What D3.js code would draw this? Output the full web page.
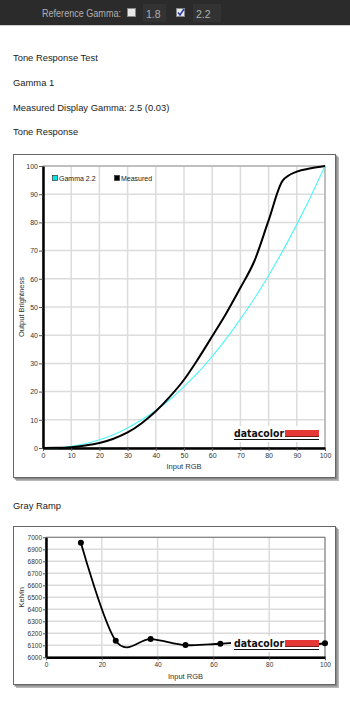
<!DOCTYPE html>
<html><head><meta charset="utf-8">
<script src="https://cdn.jsdelivr.net/npm/d3@7"></script>
<style>
html,body{margin:0;padding:0;background:#fff;}
svg{display:block;font-family:"Liberation Sans",Arial,sans-serif;}
</style></head>
<body><svg id="c" width="350" height="703"></svg>
<script>
// ---- data ----
const toneInput = [0,5,10,15,20,25,30,35,40,45,50,55,60,65,70,75,80,85,90,95,100];
const gamma22 = [0,0.1,0.6,1.5,2.9,4.7,7.1,10,13.3,17.2,21.8,26.8,32.5,38.8,45.7,53.1,61.2,69.9,79.3,89.3,100];
const measured = [0,0.05,0.3,0.9,1.8,3.3,5.5,8.8,13,18.2,24.2,31.6,39.6,47.8,56.8,66.4,80.7,94.8,98,99.2,100];
const toneTicks = [0,10,20,30,40,50,60,70,80,90,100];
const rampInput = [12.5,25,37.5,50,62.5,75,87.5,100];
const rampKelvin = [6955,6138,6152,6102,6113,6128,6095,6117];
const kelvinTicks = [6000,6100,6200,6300,6400,6500,6600,6700,6800,6900,7000];
const rampXTicks = [0,20,40,60,80,100];
const headings = [["Tone Response Test",60.5],["Gamma 1",86],["Measured Display Gamma: 2.5 (0.03)",110.5],["Tone Response",134.5],["Gray Ramp",508.5]];

const svg = d3.select("#c");

// top bar
svg.append("rect").attr("x",0).attr("y",0).attr("width",350).attr("height",25).attr("fill","#2b2b2b");
svg.append("rect").attr("x",0).attr("y",25).attr("width",350).attr("height",1).attr("fill","#cfcfcf");
svg.append("text").attr("x",42).attr("y",17).attr("font-size",10).attr("fill","#b0b0b0")
  .attr("textLength",79).attr("lengthAdjust","spacingAndGlyphs").text("Reference Gamma:");
svg.append("rect").attr("x",143).attr("y",4).attr("width",23).attr("height",18).attr("fill","#333");
svg.append("rect").attr("x",193).attr("y",4).attr("width",28).attr("height",18).attr("fill","#333");
svg.append("rect").attr("x",127.5).attr("y",8.5).attr("width",8).attr("height",8).attr("fill","#e8e8e8").attr("stroke","#888");
svg.append("text").attr("x",146).attr("y",18).attr("font-size",10.5).attr("fill","#b0b0b0").text("1.8");
svg.append("rect").attr("x",176.5).attr("y",8.5).attr("width",8).attr("height",8).attr("fill","#e8e8e8").attr("stroke","#888");
svg.append("path").attr("d","M178,12.5 L180,15 L184,9").attr("fill","none").attr("stroke","#2b3fae").attr("stroke-width",1.6);
svg.append("text").attr("x",196).attr("y",18).attr("font-size",10.5).attr("fill","#b0b0b0").text("2.2");

headings.forEach(([t,y])=>svg.append("text").attr("x",13).attr("y",y).attr("font-size",9.4).attr("fill","#222").text(t));

function frame(x0,y0,x1,y1){
  svg.append("rect").attr("x",x0+3).attr("y",y0+3).attr("width",x1-x0).attr("height",y1-y0).attr("fill","#b8b8b8");
  svg.append("rect").attr("x",x0+1.5).attr("y",y0+1.5).attr("width",x1-x0).attr("height",y1-y0).attr("fill","#8a8a8a");
  svg.append("rect").attr("x",x0+0.5).attr("y",y0+0.5).attr("width",x1-x0-1).attr("height",y1-y0-1).attr("fill","#fff").attr("stroke","#666");
}

function logo(g, xr, yb){
  const lg = g.append("g");
  lg.append("rect").attr("x",xr-88).attr("y",yb-11).attr("width",88).attr("height",16).attr("fill","#fff");
  lg.append("text").attr("x",xr-85).attr("y",yb).attr("font-size",11).attr("font-weight","bold")
    .attr("font-family","'DejaVu Sans',sans-serif").attr("fill","#111")
    .attr("textLength",50).attr("lengthAdjust","spacingAndGlyphs").text("datacolor");
  lg.append("rect").attr("x",xr-85).attr("y",yb+2).attr("width",85).attr("height",1).attr("fill","#111");
  lg.append("rect").attr("x",xr-34).attr("y",yb-7).attr("width",34).attr("height",6).attr("fill","#e53935");
  lg.append("rect").attr("x",xr-34).attr("y",yb-1).attr("width",34).attr("height",1).attr("fill","#7a1f1f");
}

// ---------- Chart 1: Tone Response ----------
frame(13,154,336,478);
{
  const L=43,R=325,T=166,B=448;
  const x=d3.scaleLinear().domain([0,100]).range([L,R]);
  const y=d3.scaleLinear().domain([0,100]).range([B,T]);
  const g=svg.append("g");
  toneTicks.forEach(t=>{
    g.append("line").attr("x1",x(t)).attr("x2",x(t)).attr("y1",T).attr("y2",B).attr("stroke","#dcdcdc").attr("stroke-width",1.5);
    g.append("line").attr("x1",L).attr("x2",R).attr("y1",y(t)).attr("y2",y(t)).attr("stroke","#dcdcdc").attr("stroke-width",1.5);
  });
  g.append("rect").attr("x",L).attr("y",T).attr("width",R-L).attr("height",B-T).attr("fill","none").attr("stroke","#999").attr("stroke-width",1);
  const yAx=g.append("g").attr("transform",`translate(${L},0)`).call(d3.axisLeft(y).tickValues(toneTicks).tickSize(4).tickSizeOuter(0).tickPadding(1));
  const xAx=g.append("g").attr("transform",`translate(0,${B})`).call(d3.axisBottom(x).tickValues(toneTicks).tickSize(3).tickSizeOuter(0).tickPadding(2));
  [yAx,xAx].forEach(a=>{a.select(".domain").attr("stroke","#000").attr("stroke-width",2.5);
    a.selectAll("text").attr("font-size",7).attr("fill","#333").attr("font-family","'Liberation Sans',Arial,sans-serif");
    a.selectAll(".tick line").attr("stroke","#555");});
  g.append("text").attr("x",(L+R)/2).attr("y",469).attr("text-anchor","middle").attr("font-size",7.5).attr("fill","#333").text("Input RGB");
  g.append("text").attr("transform",`translate(23.5,${(T+B)/2}) rotate(-90)`).attr("text-anchor","middle").attr("font-size",7.5).attr("fill","#333").text("Output Brightness");
  const line=d3.line().x((d,i)=>x(toneInput[i])).y(d=>y(d)).curve(d3.curveMonotoneX);
  g.append("path").attr("d",line(gamma22)).attr("fill","none").attr("stroke","#4ff6f6").attr("stroke-width",1.1);
  g.append("path").attr("d",line(measured)).attr("fill","none").attr("stroke","#000").attr("stroke-width",2);
  // legend
  g.append("rect").attr("x",52.5).attr("y",175.5).attr("width",5).attr("height",5).attr("fill","#00e5e5").attr("stroke","#333").attr("stroke-width",0.7);
  g.append("text").attr("x",59).attr("y",181).attr("font-size",7).attr("fill","#222").text("Gamma 2.2");
  g.append("rect").attr("x",114.5).attr("y",175.5).attr("width",5).attr("height",5).attr("fill","#000").attr("stroke","#333").attr("stroke-width",0.7);
  g.append("text").attr("x",121).attr("y",181).attr("font-size",7).attr("fill","#222").text("Measured");
  logo(g,319,437);
}

// ---------- Chart 2: Gray Ramp ----------
frame(13,526,336,685);
{
  const L=46,R=325,T=537.3,B=657.3;
  const x=d3.scaleLinear().domain([0,100]).range([L,R]);
  const y=d3.scaleLinear().domain([6000,7000]).range([B,T]);
  const g=svg.append("g");
  rampXTicks.forEach(t=>g.append("line").attr("x1",x(t)).attr("x2",x(t)).attr("y1",T).attr("y2",B).attr("stroke","#dcdcdc").attr("stroke-width",1.5));
  kelvinTicks.forEach(t=>g.append("line").attr("x1",L).attr("x2",R).attr("y1",y(t)).attr("y2",y(t)).attr("stroke","#dcdcdc").attr("stroke-width",1.5));
  g.append("rect").attr("x",L).attr("y",T).attr("width",R-L).attr("height",B-T).attr("fill","none").attr("stroke","#777").attr("stroke-width",1);
  const yAx=g.append("g").attr("transform",`translate(${L},0)`).call(d3.axisLeft(y).tickValues(kelvinTicks).tickSize(3).tickSizeOuter(0).tickPadding(1).tickFormat(d3.format("d")));
  const xAx=g.append("g").attr("transform",`translate(0,${B})`).call(d3.axisBottom(x).tickValues(rampXTicks).tickSize(3).tickSizeOuter(0).tickPadding(2));
  [yAx,xAx].forEach(a=>{a.select(".domain").attr("stroke","#000").attr("stroke-width",2.5);
    a.selectAll("text").attr("font-size",6.5).attr("fill","#333").attr("font-family","'Liberation Sans',Arial,sans-serif");
    a.selectAll(".tick line").attr("stroke","#555");});
  g.append("text").attr("x",(L+R)/2).attr("y",679).attr("text-anchor","middle").attr("font-size",7.5).attr("fill","#333").text("Input RGB");
  g.append("text").attr("transform",`translate(23.5,${(T+B)/2}) rotate(-90)`).attr("text-anchor","middle").attr("font-size",7.5).attr("fill","#333").text("Kelvin");
  const line=d3.line().x((d,i)=>x(rampInput[i])).y(d=>y(d)).curve(d3.curveCardinal.tension(0));
  g.append("path").attr("d",line(rampKelvin)).attr("fill","none").attr("stroke","#000").attr("stroke-width",1.8);
  g.selectAll("circle").data(rampKelvin).join("circle").attr("cx",(d,i)=>x(rampInput[i])).attr("cy",d=>y(d)).attr("r",3).attr("fill","#000");
  logo(g,319,647);
}
</script></body></html>
